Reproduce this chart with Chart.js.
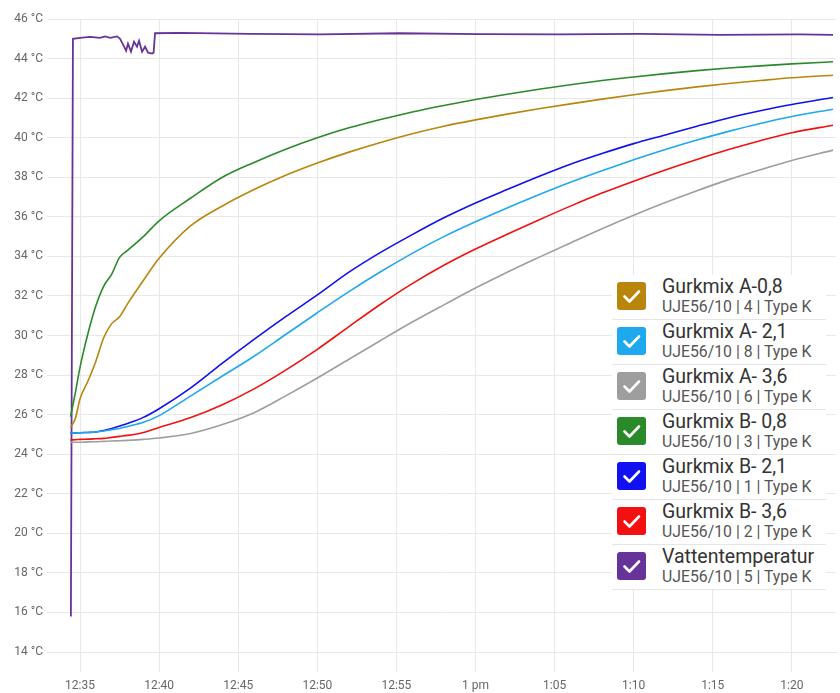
<!DOCTYPE html>
<html>
<head>
<meta charset="utf-8">
<script src="https://cdn.jsdelivr.net/npm/chart.js@4"></script>
<style>
  html, body { margin: 0; padding: 0; background: #fff; }
  #wrap { position: relative; width: 840px; height: 693px; }
  #legend { position: absolute; left: 612px; top: 275px; width: 214px; background: #fff; font-family: Roboto, sans-serif; }
  .item { position: relative; height: 44px; border-bottom: 1px solid #e6e6e6; }
  .box { position: absolute; left: 5px; top: 7px; width: 29px; height: 28px; border-radius: 3px; }
  .box svg { position: absolute; left: 0; top: 0; }
  .ttl { position: absolute; left: 50px; top: 1px; font-size: 19.5px; line-height: 22px; color: #333; white-space: nowrap; }
  .sub { position: absolute; left: 50px; top: 23px; font-size: 15.8px; line-height: 18px; color: #555; white-space: nowrap; }
</style>
</head>
<body>
<div id="wrap">
  <canvas id="myChart" width="840" height="693"></canvas>
  <div id="legend"></div>
</div>
<script>
// minutes after 12:00
const timeMin = [34.4, 34.7, 35, 35.5, 36, 36.5, 37, 37.5, 38, 39, 40, 42, 44, 46, 48, 50, 52, 54, 56, 58, 60, 62, 64, 66, 68, 70, 72, 74, 76, 78, 80, 82.6];

const gurkA08 = [25.35, 25.8, 26.8, 27.7, 28.7, 29.9, 30.6, 30.95, 31.6, 32.78, 33.9, 35.55, 36.55, 37.38, 38.1, 38.72, 39.27, 39.76, 40.2, 40.58, 40.9, 41.19, 41.46, 41.71, 41.95, 42.17, 42.38, 42.57, 42.74, 42.89, 43.03, 43.16];
const gurkA21 = [25.05, 25.07, 25.08, 25.1, 25.12, 25.17, 25.24, 25.3, 25.4, 25.61, 25.95, 26.95, 27.95, 28.95, 30.05, 31.15, 32.22, 33.22, 34.15, 35.0, 35.75, 36.45, 37.12, 37.75, 38.33, 38.88, 39.4, 39.88, 40.32, 40.72, 41.07, 41.44];
const gurkA36 = [24.6, 24.6, 24.6, 24.62, 24.63, 24.65, 24.67, 24.68, 24.7, 24.75, 24.82, 25.05, 25.5, 26.1, 26.95, 27.85, 28.8, 29.75, 30.68, 31.55, 32.4, 33.2, 33.95, 34.68, 35.4, 36.08, 36.72, 37.32, 37.88, 38.38, 38.85, 39.37];
const gurkB08 = [25.9, 27.1, 28.4, 30.1, 31.5, 32.5, 33.1, 33.95, 34.3, 35.0, 35.8, 36.95, 38.0, 38.75, 39.42, 40.0, 40.5, 40.92, 41.3, 41.63, 41.93, 42.2, 42.45, 42.68, 42.89, 43.07, 43.24, 43.39, 43.52, 43.63, 43.73, 43.84];
const gurkB21 = [25.05, 25.07, 25.08, 25.1, 25.12, 25.2, 25.3, 25.42, 25.55, 25.86, 26.3, 27.35, 28.6, 29.8, 30.95, 32.05, 33.2, 34.2, 35.1, 35.95, 36.7, 37.38, 38.04, 38.66, 39.2, 39.7, 40.14, 40.58, 41.0, 41.36, 41.68, 42.03];
const gurkB36 = [24.72, 24.73, 24.75, 24.76, 24.78, 24.8, 24.85, 24.9, 24.95, 25.1, 25.35, 25.85, 26.5, 27.3, 28.25, 29.3, 30.45, 31.58, 32.62, 33.55, 34.37, 35.12, 35.84, 36.54, 37.2, 37.8, 38.37, 38.9, 39.4, 39.85, 40.25, 40.63];

const waterTime = [34.42, 34.55, 35, 35.63, 36.26, 36.58, 36.9, 37.34, 37.53, 37.72, 37.91, 38.03, 38.22, 38.41, 38.6, 38.73, 38.92, 39.11, 39.3, 39.55, 39.65, 39.74, 41.32, 45.75, 50.17, 55.23, 60.28, 65.34, 70.4, 75.45, 80.5, 82.6];
const waterTemp = [15.8, 45.0, 45.05, 45.1, 45.05, 45.12, 45.05, 45.12, 45.0, 44.7, 44.4, 44.75, 44.35, 44.85, 44.6, 44.9, 44.35, 44.6, 44.3, 44.25, 44.3, 45.28, 45.3, 45.25, 45.22, 45.28, 45.24, 45.22, 45.25, 45.2, 45.22, 45.2];

const tickMinutes = [35, 40, 45, 50, 55, 60, 65, 70, 75, 80];
const tickLabels = ['12:35', '12:40', '12:45', '12:50', '12:55', '1 pm', '1:05', '1:10', '1:15', '1:20'];

const names = ['Gurkmix A-0,8', 'Gurkmix A- 2,1', 'Gurkmix A- 3,6', 'Gurkmix B- 0,8', 'Gurkmix B- 2,1', 'Gurkmix B- 3,6', 'Vattentemperatur'];
const sensors = ['UJE56/10 | 4 | Type K', 'UJE56/10 | 8 | Type K', 'UJE56/10 | 6 | Type K', 'UJE56/10 | 3 | Type K', 'UJE56/10 | 1 | Type K', 'UJE56/10 | 2 | Type K', 'UJE56/10 | 5 | Type K'];
const colors = ['#b8860b', '#1ea8ee', '#9e9e9e', '#2a8a2a', '#1010f0', '#f21010', '#663399'];

const seriesVals = [gurkA08, gurkA21, gurkA36, gurkB08, gurkB21, gurkB36];

const toPts = (xs, ys) => xs.map((x, i) => ({ x: x, y: ys[i] }));

const datasets = seriesVals.map((vals, i) => ({
    label: names[i],
    data: toPts(timeMin, vals),
    borderColor: colors[i],
    borderWidth: 1.6,
    pointRadius: 0,
    cubicInterpolationMode: 'monotone'
}));
datasets.push({
    label: names[6],
    data: toPts(waterTime, waterTemp),
    borderColor: colors[6],
    borderWidth: 1.8,
    pointRadius: 0,
    tension: 0
});

const gridColor = '#e8e8e8';
const ctx = document.getElementById('myChart').getContext('2d');

const myChart = new Chart(ctx, {
    type: 'line',
    data: { datasets: datasets },
    options: {
        responsive: false,
        animation: false,
        layout: { padding: { top: 19, right: 4, left: 0, bottom: 0 } },
        plugins: {
            legend: { display: false },
            tooltip: { enabled: false }
        },
        scales: {
            x: {
                type: 'linear',
                min: 32.91,
                max: 82.79,
                afterFit: s => { s.height = 41; },
                afterBuildTicks: s => { s.ticks = tickMinutes.map(v => ({ value: v })); },
                grid: { color: gridColor, tickLength: 20 },
                border: { color: gridColor },
                ticks: {
                    color: '#666',
                    padding: 7,
                    maxRotation: 0,
                    font: { family: 'Roboto', size: 12 },
                    callback: v => tickLabels[tickMinutes.indexOf(v)]
                }
            },
            y: {
                min: 14,
                max: 46,
                afterFit: s => { s.width = 47; },
                grid: { color: gridColor, drawTicks: false },
                border: { display: false },
                ticks: {
                    stepSize: 2,
                    color: '#666',
                    padding: 4,
                    font: { family: 'Roboto', size: 12 },
                    callback: v => v + ' °C'
                }
            }
        }
    }
});

// legend
const legend = document.getElementById('legend');
names.forEach((n, i) => {
    const item = document.createElement('div');
    item.className = 'item';
    item.innerHTML =
        '<div class="box" style="background:' + colors[i] + '">' +
        '<svg width="29" height="28"><path d="M7.5 14.5 L12.5 19.5 L22 9.5" fill="none" stroke="#fff" stroke-width="2.6" stroke-linecap="round" stroke-linejoin="round"/></svg></div>' +
        '<div class="ttl">' + n + '</div>' +
        '<div class="sub">' + sensors[i] + '</div>';
    legend.appendChild(item);
});
</script>
</body>
</html>
